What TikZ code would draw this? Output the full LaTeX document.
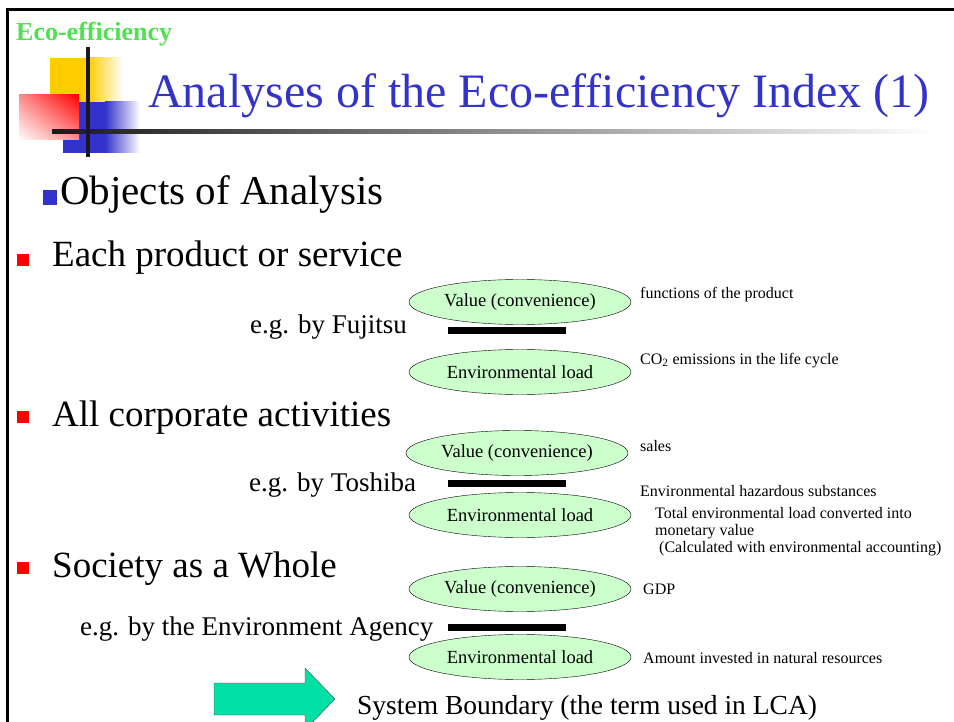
\documentclass[tikz,border=0pt]{standalone}
\usepackage{fontspec}
\setmainfont{Liberation Serif}
\usetikzlibrary{shapes.geometric, shadings}
\definecolor{ecogreen}{RGB}{80,225,80}
\definecolor{titleblue}{RGB}{51,51,204}
\definecolor{ellgreen}{RGB}{204,255,204}
\definecolor{arrowgreen}{RGB}{0,224,164}
\definecolor{decoyellow}{RGB}{255,204,0}
\begin{document}
\begin{tikzpicture}[x=1pt, y=-1pt]
            \tikzstyle{heading}=[anchor=base west, inner sep=0pt]
            \tikzstyle{bullet}=[anchor=base west, inner sep=0pt, font=\fontsize{37}{40}\selectfont]
            \tikzstyle{example}=[anchor=base west, inner sep=0pt, font=\fontsize{27}{30}\selectfont]
            \tikzstyle{note}=[anchor=base west, inner sep=0pt, align=left, font=\fontsize{16}{17}\selectfont]
            \tikzstyle{quantity}=[ellipse, draw=black, fill=ellgreen, thin, minimum width=222, minimum height=45, inner sep=0pt, font=\fontsize{18.5}{20}\selectfont]
            \tikzstyle{divider}=[fill=black, inner sep=0pt, minimum width=118, minimum height=7]
            \tikzstyle{redmark}=[fill=red, inner sep=0pt, minimum size=12]
            \useasboundingbox (0, 0) rectangle (954, 722);
            \draw [line width=3pt] (7, 724) -- (7, 10) -- (956, 10);
            \node [heading, text=ecogreen, font=\fontsize{26}{28}\selectfont\bfseries] (topic) at (16, 41) {Eco-efficiency};
            \fill [decoyellow] (50, 58) rectangle (88, 103);
            \shade [left color=decoyellow, right color=white] (88, 58) rectangle (123, 103);
            \fill [titleblue] (63, 102) rectangle (105, 153);
            \shade [left color=titleblue, right color=white] (105, 102) rectangle (140, 153);
            \shade [upper right=red, lower left=white, upper left=red!45, lower right=red!45] (19, 95) rectangle (79, 140);
            \shade [left color=black!90, right color=white] (52, 130) rectangle (935, 134);
            \fill [black!90] (86, 47) rectangle (90, 157);
            \node [heading, text=titleblue, font=\fontsize{48}{50}\selectfont] (title) at (148, 108) {Analyses of the Eco-efficiency Index (1)};
            \fill [titleblue] (43, 190) rectangle (57, 205);
            \node [heading, font=\fontsize{41}{44}\selectfont] (objects) at (60, 205) {Objects of Analysis};
            \node [redmark] (m1) at (23, 260) {};
            \node [redmark] (m2) at (23, 417) {};
            \node [redmark] (m3) at (23, 568) {};
            \node [bullet] (product) at (52, 267) {Each product or service};
            \node [bullet] (corporate) at (52, 426) {All corporate activities};
            \node [bullet] (society) at (52, 577) {Society as a Whole};
            \node [example] (fujitsu) at (250, 334) {e.g. by Fujitsu};
            \node [example] (toshiba) at (249, 491) {e.g. by Toshiba};
            \node [example] (agency) at (80, 635) {e.g. by the Environment Agency};
            \node [quantity] (v1) at (520, 302) {Value (convenience)};
            \node [divider] (d1) at (507, 331) {};
            \node [quantity] (e1) at (520, 372) {Environmental load};
            \node [quantity] (v2) at (517, 453) {Value (convenience)};
            \node [divider] (d2) at (507, 483) {};
            \node [quantity] (e2) at (520, 515) {Environmental load};
            \node [quantity] (v3) at (520, 589) {Value (convenience)};
            \node [divider] (d3) at (507, 627) {};
            \node [quantity] (e3) at (520, 657) {Environmental load};
            \node [note] (n1) at (640, 299) {functions of the product};
            \node [note] (n2) at (640, 364) {CO\textsubscript{2} emissions in the life cycle};
            \node [note] (n3) at (640, 451) {sales};
            \node [note] (n4) at (640, 496) {Environmental hazardous substances};
            \node [note, anchor=north west] (n5) at (655, 507) {Total environmental load converted into\\monetary value\\\ (Calculated with environmental accounting)};
            \node [note] (n6) at (643, 594) {GDP};
            \node [note] (n7) at (643, 663) {Amount invested in natural resources};
            \draw [fill=arrowgreen, draw=black!70, thin] (214, 683) -- (305, 683) -- (305, 668) -- (335, 699) -- (305, 730) -- (305, 715) -- (214, 715) -- cycle;
            \node [example, font=\fontsize{27.5}{30}\selectfont] (boundary) at (357, 714) {System Boundary (the term used in LCA)};
        \end{tikzpicture}
\end{document}
